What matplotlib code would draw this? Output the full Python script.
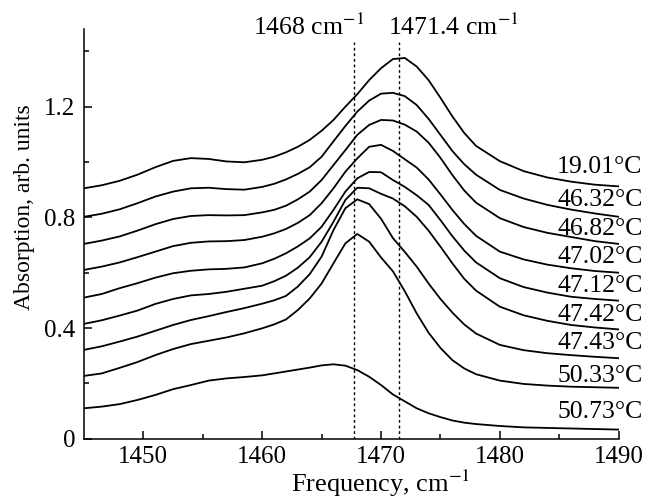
import numpy as np
from matplotlib import pyplot as plt
from matplotlib.ticker import FixedLocator, FuncFormatter

plt.rcParams['font.family'] = ['Liberation Serif', 'DejaVu Serif']
plt.rcParams['mathtext.fontset'] = 'stix'

# frequency grid, cm^-1
freq = [1445, 1446.5, 1448, 1449.5, 1451, 1452.5, 1454, 1455.5, 1457, 1458.5,
        1460, 1461, 1462, 1463, 1464, 1465, 1466, 1467, 1468, 1469,
        1470, 1471, 1472, 1473, 1474, 1475, 1476, 1477, 1478, 1480,
        1482, 1484, 1486, 1488, 1490]

temps = ['19.01', '46.32', '46.82', '47.02', '47.12', '47.42', '47.43', '50.33', '50.73']

a_1901 = [0.905, 0.916, 0.932, 0.954, 0.981, 1.004, 1.014, 1.011, 1.002, 0.999,
          1.008, 1.019, 1.035, 1.055, 1.080, 1.113, 1.152, 1.200, 1.245, 1.296,
          1.339, 1.372, 1.376, 1.345, 1.296, 1.232, 1.165, 1.105, 1.058, 1.003,
          0.967, 0.944, 0.929, 0.918, 0.912]
a_4632 = [0.802, 0.813, 0.829, 0.851, 0.875, 0.893, 0.905, 0.907, 0.902, 0.900,
          0.910, 0.921, 0.937, 0.957, 0.981, 1.019, 1.075, 1.130, 1.182, 1.222,
          1.247, 1.250, 1.238, 1.206, 1.156, 1.098, 1.040, 0.992, 0.954, 0.899,
          0.868, 0.845, 0.828, 0.814, 0.802]
a_4682 = [0.704, 0.716, 0.731, 0.752, 0.775, 0.794, 0.805, 0.808, 0.807, 0.808,
          0.818, 0.827, 0.842, 0.865, 0.893, 0.935, 0.989, 1.043, 1.098, 1.134,
          1.152, 1.150, 1.135, 1.110, 1.070, 1.015, 0.953, 0.897, 0.853, 0.797,
          0.765, 0.744, 0.729, 0.714, 0.704]
a_4702 = [0.610, 0.622, 0.637, 0.656, 0.676, 0.696, 0.708, 0.713, 0.714, 0.718,
          0.730, 0.742, 0.758, 0.780, 0.808, 0.851, 0.905, 0.965, 1.013, 1.055,
          1.062, 1.040, 1.010, 0.980, 0.937, 0.883, 0.827, 0.776, 0.733, 0.676,
          0.648, 0.629, 0.616, 0.606, 0.600]
a_4712 = [0.510, 0.523, 0.544, 0.562, 0.582, 0.598, 0.607, 0.612, 0.614, 0.619,
          0.634, 0.650, 0.670, 0.695, 0.724, 0.766, 0.827, 0.893, 0.941, 0.964,
          0.963, 0.935, 0.910, 0.880, 0.845, 0.790, 0.732, 0.680, 0.637, 0.580,
          0.548, 0.528, 0.513, 0.505, 0.499]
a_4742 = [0.415, 0.428, 0.445, 0.463, 0.487, 0.505, 0.518, 0.523, 0.531, 0.542,
          0.553, 0.569, 0.589, 0.618, 0.656, 0.712, 0.784, 0.863, 0.907, 0.905,
          0.885, 0.868, 0.840, 0.802, 0.752, 0.694, 0.634, 0.578, 0.535, 0.477,
          0.446, 0.426, 0.411, 0.402, 0.395]
a_4743 = [0.321, 0.334, 0.351, 0.369, 0.390, 0.411, 0.429, 0.443, 0.458, 0.472,
          0.488, 0.500, 0.516, 0.550, 0.595, 0.658, 0.754, 0.833, 0.865, 0.848,
          0.795, 0.725, 0.675, 0.622, 0.561, 0.505, 0.456, 0.413, 0.380, 0.339,
          0.320, 0.309, 0.302, 0.296, 0.291]
a_5033 = [0.227, 0.236, 0.256, 0.277, 0.302, 0.324, 0.342, 0.354, 0.366, 0.381,
          0.399, 0.413, 0.431, 0.465, 0.507, 0.561, 0.634, 0.706, 0.740, 0.712,
          0.655, 0.605, 0.533, 0.453, 0.383, 0.328, 0.284, 0.254, 0.233, 0.210,
          0.198, 0.192, 0.188, 0.186, 0.184]
a_5073 = [0.110, 0.116, 0.125, 0.140, 0.158, 0.179, 0.194, 0.210, 0.218, 0.223,
          0.229, 0.236, 0.243, 0.250, 0.257, 0.265, 0.269, 0.264, 0.248, 0.224,
          0.194, 0.160, 0.135, 0.110, 0.092, 0.078, 0.066, 0.058, 0.053, 0.046,
          0.041, 0.039, 0.037, 0.035, 0.033]

spectra = [a_1901, a_4632, a_4682, a_4702, a_4712, a_4742, a_4743, a_5033, a_5073]
# label heights (centre of text) next to each curve end
label_y = [0.983, 0.863, 0.758, 0.655, 0.553, 0.447, 0.345, 0.226, 0.095]

marker_lines = [1467.7, 1471.5]
marker_text = [r'1468 cm$^{-1}$', r'1471.4 cm$^{-1}$']
marker_text_x = [1463.95, 1476.1]

fig = plt.figure(figsize=(6.47, 4.99), dpi=100)
ax = fig.add_axes([0.1297, 0.1208, 0.8266, 0.8211])

for a in spectra:
    ax.plot(freq, a, color='black', lw=1.3, solid_joinstyle='round')

for t, ly in zip(temps, label_y):
    ax.text(1492.0, ly, t + '°C', ha='right', va='center', fontsize=18.5, clip_on=False)

ax.vlines(marker_lines, 0, 1.434, colors='black', linestyles=(0, (2, 2)), lw=1.0)
for xt, s in zip(marker_text_x, marker_text):
    ax.text(xt, 1.488, s, ha='center', va='center', fontsize=18.5, clip_on=False)

ax.set_xlim(1445, 1490)
ax.set_ylim(0, 1.4807)
ax.spines['top'].set_visible(False)
ax.spines['right'].set_visible(False)
ax.spines['left'].set_linewidth(1.1)
ax.spines['bottom'].set_linewidth(1.1)

ax.xaxis.set_major_locator(FixedLocator([1450, 1460, 1470, 1480, 1490]))
ax.xaxis.set_minor_locator(FixedLocator([1455, 1465, 1475, 1485]))
ax.yaxis.set_major_locator(FixedLocator([0, 0.4, 0.8, 1.2]))
ax.yaxis.set_minor_locator(FixedLocator([0.2, 0.6, 1.0, 1.4]))
ax.yaxis.set_major_formatter(FuncFormatter(lambda v, p: '0' if v == 0 else f'{v:.1f}'))
ax.tick_params(which='major', direction='in', length=6, width=1.1, labelsize=18, pad=6)
ax.tick_params(axis='x', which='major', pad=5)
ax.tick_params(which='minor', direction='in', length=3.5, width=1.1)

ax.set_xlabel(r'Frequency, cm$^{-1}$', fontsize=19)
ax.set_ylabel('Absorption, arb. units', fontsize=17)
ax.xaxis.set_label_coords(0.554, -0.071)
ax.yaxis.set_label_coords(-0.0914, 0.566)

fig.savefig('out.png', dpi=100)
